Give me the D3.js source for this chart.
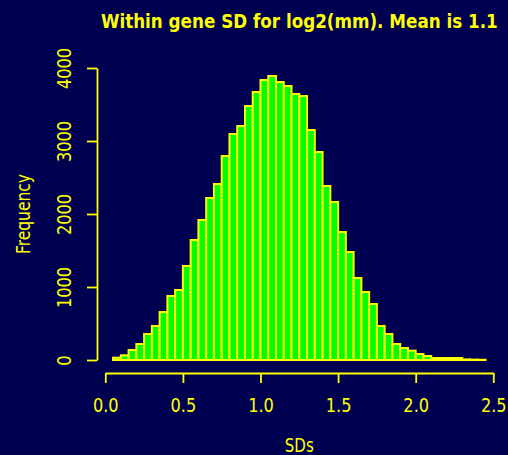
<!DOCTYPE html>
<html>
<head>
<meta charset="utf-8">
<script src="https://cdn.jsdelivr.net/npm/d3@7"></script>
<style>
  html, body { margin: 0; padding: 0; background: #000050; }
  svg { display: block; }
</style>
</head>
<body>
<svg id="chart" width="508" height="455"></svg>
<script>
// histogram of within gene SD, bins of 0.05 starting at 0.05
const BIN_START = 0.05;
const BIN_WIDTH = 0.05;
const COUNTS = [
    32, 64, 137, 219, 356, 466, 657, 877, 959, 1288,
    1644, 1918, 2219, 2411, 2794, 3096, 3205, 3479, 3671, 3835,
    3890, 3808, 3753, 3644, 3616, 3150, 2849, 2383, 2164, 1753,
    1479, 1123, 931, 767, 466, 356, 219, 164, 128, 82,
    55, 27, 27, 27, 27, 8, 5, 3
];
const X_TICKS = [0, 0.5, 1, 1.5, 2, 2.5];
const Y_TICKS = [0, 1000, 2000, 3000, 4000];

const TITLE = 'Within gene SD for log2(mm). Mean is 1.1';
const X_LABEL = 'SDs';
const Y_LABEL = 'Frequency';

const FG = '#ffff00';
const BAR_FILL = '#00ff00';
const FONT = '"Liberation Sans Narrow", "DejaVu Sans Condensed", "Liberation Sans", sans-serif';

const svg = d3.select('#chart');

// plot region (from the reference)
const X_LEFT = 105.3, X_RIGHT = 493.3;
const Y_BASE = 360, Y_TOP = 68;

const x = d3.scaleLinear().domain([0, 2.5]).range([X_LEFT, X_RIGHT]);
const y = d3.scaleLinear().domain([0, 4000]).range([Y_BASE, Y_TOP]);

const bins = COUNTS.map((c, i) => ({
    x0: BIN_START + i * BIN_WIDTH,
    x1: BIN_START + (i + 1) * BIN_WIDTH,
    count: c
}));

// squeeze a text horizontally so it is as wide as in the reference
function squeeze(sel, width) {
    const w = sel.node().getComputedTextLength();
    return w > 0 ? width / w : 1;
}

// bars
svg.append('g')
    .selectAll('rect')
    .data(bins)
    .join('rect')
    .attr('x', d => x(d.x0))
    .attr('width', d => x(d.x1) - x(d.x0))
    .attr('y', d => y(d.count))
    .attr('height', d => y(0) - y(d.count))
    .style('fill', BAR_FILL)
    .style('stroke', FG)
    .style('stroke-width', 2);

// x axis
const xAxisG = svg.append('g')
    .attr('transform', `translate(0, 373)`)
    .call(d3.axisBottom(x).tickValues(X_TICKS).tickSize(10).tickSizeOuter(0).tickFormat(d3.format('.1f')));

// y axis
const yAxisG = svg.append('g')
    .attr('transform', `translate(97, 0)`)
    .call(d3.axisLeft(y).tickValues(Y_TICKS).tickSize(10).tickSizeOuter(0).tickFormat(d3.format('d')));

[xAxisG, yAxisG].forEach(g => {
    g.select('.domain').style('stroke', FG).style('stroke-width', 1.8);
    g.selectAll('.tick line').style('stroke', FG).style('stroke-width', 1.8);
    g.selectAll('.tick text')
        .style('fill', FG)
        .style('font-family', FONT)
        .style('font-size', '20px');
});

// x tick labels sit below the ticks
xAxisG.selectAll('.tick text')
    .attr('y', 0)
    .attr('dy', 0)
    .attr('text-anchor', 'middle')
    .attr('transform', 'translate(0, 39) scale(0.9, 1)');

// y tick labels are vertical, reading upward
yAxisG.selectAll('.tick text')
    .attr('x', 0)
    .attr('dy', 0)
    .attr('text-anchor', 'middle')
    .attr('transform', 'translate(-26, 0) rotate(-90) scale(0.9, 1)');

// title
const title = svg.append('text')
    .attr('text-anchor', 'middle')
    .style('fill', FG)
    .style('font-family', FONT)
    .style('font-weight', 'bold')
    .style('font-size', '20px')
    .text(TITLE);
title.attr('transform', `translate(${(X_LEFT + X_RIGHT) / 2}, 28) scale(${squeeze(title, 397)}, 1)`);

// axis titles
const xLab = svg.append('text')
    .attr('text-anchor', 'middle')
    .style('fill', FG)
    .style('font-family', FONT)
    .style('font-size', '20px')
    .text(X_LABEL);
xLab.attr('transform', `translate(${(X_LEFT + X_RIGHT) / 2}, 452) scale(${squeeze(xLab, 29)}, 1)`);

const yLab = svg.append('text')
    .attr('text-anchor', 'middle')
    .style('fill', FG)
    .style('font-family', FONT)
    .style('font-size', '20px')
    .text(Y_LABEL);
yLab.attr('transform', `translate(30, ${(Y_BASE + Y_TOP) / 2}) rotate(-90) scale(${squeeze(yLab, 80)}, 1)`);
</script>
</body>
</html>
